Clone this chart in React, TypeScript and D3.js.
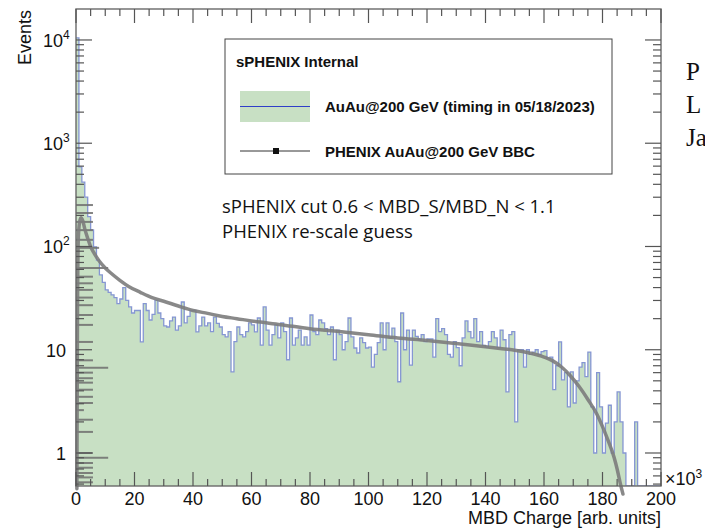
import React from 'react';
import * as d3 from 'd3';

const W = 705;
const H = 528;

// sPHENIX histogram: 200 bins of width 1 (x10^3), bins 0..199
const counts = [
  10500, 590, 420, 300, 195, 145, 99, 74, 53, 45,
  38, 36, 34, 32, 28, 31, 40, 30, 26, 22.7,
  24, 24, 11.9, 28, 24, 19.4, 22, 30, 22.7, 20,
  17, 16.6, 19, 20.7, 15.5, 17, 29, 18.2, 21, 24,
  24, 14.9, 17, 20.7, 17, 18.2, 15, 20.7, 18, 16.6,
  14, 13.3, 15, 6.1, 12, 16.6, 14, 13.3, 15, 18.2,
  17.4, 14.9, 20.3, 11.1, 26, 15.5, 11.1, 14, 17.4, 13,
  18.2, 15, 8, 20.3, 11.1, 13, 15.5, 11.1, 13.3, 11.1,
  21.7, 15, 14, 19.4, 18.2, 16, 14, 16.6, 8, 15.5,
  14, 10, 12, 20.3, 13.3, 10.4, 9.3, 13, 11.7, 10.4,
  10.6, 6.8, 9, 11.7, 18.2, 10, 18.2, 13, 16.2, 12,
  4.9, 22.7, 10, 15.5, 7.1, 15.5, 13.5, 12.5, 14, 12,
  12.7, 12.7, 8.5, 20, 15, 16, 14, 9, 8.5, 12,
  10.5, 7, 13, 19, 15, 13, 20, 12, 15, 11,
  10.6, 12, 15, 13, 10.5, 15.5, 12.5, 3.9, 14, 15,
  2, 10, 10, 6.8, 10, 9, 9.5, 10, 9, 9.6,
  9.8, 8.3, 8.5, 4.1, 7, 11.9, 5.1, 6, 2.8, 6.1,
  3.05, 5, 6.8, 7.5, 5.5, 9.5, 2.8, 1, 6, 2.8,
  1, 1.95, 2.9, 1, 2, 3.9, 2, 1, 0, 0,
  0, 2, 0, 0, 0, 0, 0, 0, 0, 0,
];

// PHENIX BBC re-scaled curve
const phenixX = [0.3, 0.5, 0.8, 1.2, 1.7, 2.3, 3, 4, 5, 6, 8, 10, 12, 15, 18, 22, 26, 30, 35, 40, 45, 50, 55, 60, 70, 80, 90, 100, 110, 120, 130, 140, 145, 150, 155, 160, 163, 166, 169, 172, 175, 178, 180, 182, 184, 185, 186, 187];
const phenixY = [0.45, 20, 120, 170, 190, 178, 148, 120, 100, 88, 72, 62, 55, 47, 41, 36, 32, 29.5, 26.5, 24, 22.5, 21, 20, 19, 17.5, 16, 15, 14, 13, 12.3, 11.5, 10.7, 10.3, 9.9, 9.3, 8.5, 7.8, 6.8, 5.6, 4.4, 3.3, 2.4, 1.8, 1.3, 0.9, 0.7, 0.52, 0.4];

// PHENIX points piled at the lowest charge (horizontal error bars)
const lowY = [252, 211, 173, 144, 116, 97, 62, 51, 44, 38, 32, 27, 21.7, 17.4, 11.9, 7.9, 6.7, 6, 5.3, 4.8, 4.1, 3.5, 3.05, 2.6, 2.1, 1.6, 1.0, 0.9, 0.8, 0.72, 0.64, 0.58, 0.52];
const lowErr = [5.8, 5.8, 5.8, 5.8, 5.8, 7.9, 11, 5.8, 5.8, 5.8, 5.8, 5.8, 5.8, 5.8, 5.8, 5.8, 11, 5.8, 5.8, 5.8, 5.8, 5.8, 5.8, 2.7, 5.8, 5.8, 5.8, 11, 5.8, 5.8, 5.8, 5.8, 5.8];

const xMajorTicks = [0, 20, 40, 60, 80, 100, 120, 140, 160, 180, 200];
const yMajorTicks = [1, 10, 100, 1000, 10000];
const yTickBase = ['1', '10', '10', '10', '10'];
const yTickSup = ['', '', '2', '3', '4'];

const legendTitle = 'sPHENIX Internal';
const legendEntries = ['AuAu@200 GeV (timing in 05/18/2023)', 'PHENIX AuAu@200 GeV BBC'];
const noteLines = ['sPHENIX cut 0.6 < MBD_S/MBD_N < 1.1', 'PHENIX re-scale guess'];
const slideLines = ['P', 'L', 'Ja'];

export default function App() {
  const L = 76, R = 661, T = 9, B = 486;
  const x = d3.scaleLinear().domain([0, 200]).range([L, R]);
  const yMin = 0.479;
  const y = d3.scaleLog().domain([yMin, 19950]).range([B, T]);
  const yc = y.copy().clamp(true);

  const histPts: [number, number][] = counts.map((c, i) => [i, Math.max(c, 0.3)]);
  histPts.push([200, Math.max(counts[counts.length - 1], 0.3)]);
  const stepLine = d3.line<[number, number]>().x(d => x(d[0])).y(d => yc(d[1])).curve(d3.curveStepAfter);
  const stepArea = d3.area<[number, number]>().x(d => x(d[0])).y0(B).y1(d => yc(d[1])).curve(d3.curveStepAfter);

  const curvePts: [number, number][] = phenixX.map((v, i) => [v, phenixY[i]]);
  const curveLine = d3.line<[number, number]>().x(d => x(d[0])).y(d => y(d[1])).curve(d3.curveMonotoneX);

  const xMinor: number[] = d3.range(0, 201, 5).filter(v => v % 20 !== 0);
  const yMinor: number[] = [];
  for (let k = -1; k <= 4; k++) {
    for (let m = 2; m <= 9; m++) {
      const v = m * Math.pow(10, k);
      if (v >= yMin && v <= 19950) yMinor.push(v);
    }
  }

  const axisCol = '#555';
  const helv = 'Liberation Sans, Arial, Helvetica, sans-serif';

  return (
    <svg width={W} height={H} style={{ position: 'absolute', left: 0, top: 0, background: '#fff' }} xmlns="http://www.w3.org/2000/svg">
      <defs>
        <clipPath id="frameClip">
          <rect x={L} y={T} width={R - L} height={B - T} />
        </clipPath>
      </defs>
      <rect x={0} y={0} width={W} height={H} fill="#fff" />

      {/* histogram */}
      <g clipPath="url(#frameClip)">
        <path d={stepArea(histPts) || ''} fill="#c8e0c4" stroke="none" />
        <path d={stepLine(histPts) || ''} fill="none" stroke="#8596d3" strokeWidth={1.3} />
      </g>

      {/* PHENIX low-charge points */}
      <g stroke="#6f6f6f" strokeWidth={2} opacity={0.85}>
        {lowY.map((v, i) => (
          <line key={i} x1={x(0)} x2={x(lowErr[i])} y1={y(v)} y2={y(v)} />
        ))}
      </g>

      {/* PHENIX curve */}
      <path d={curveLine(curvePts) || ''} fill="none" stroke="#7c7c7c" strokeWidth={3.5} opacity={0.9} strokeLinecap="round" />

      {/* frame */}
      <rect x={L} y={T} width={R - L} height={B - T} fill="none" stroke="#6a6a6a" strokeWidth={1.4} />

      {/* x ticks bottom & top */}
      <g stroke={axisCol} strokeWidth={1.2}>
        {xMajorTicks.map(v => (
          <g key={'xm' + v}>
            <line x1={x(v)} x2={x(v)} y1={B} y2={B - 14} />
            <line x1={x(v)} x2={x(v)} y1={T} y2={T + 14} />
          </g>
        ))}
        {xMinor.map(v => (
          <g key={'xn' + v}>
            <line x1={x(v)} x2={x(v)} y1={B} y2={B - 7} />
            <line x1={x(v)} x2={x(v)} y1={T} y2={T + 7} />
          </g>
        ))}
        {yMajorTicks.map(v => (
          <g key={'ym' + v}>
            <line x1={L} x2={L + 16} y1={y(v)} y2={y(v)} />
            <line x1={R} x2={R - 16} y1={y(v)} y2={y(v)} />
          </g>
        ))}
        {yMinor.map(v => (
          <g key={'yn' + v}>
            <line x1={L} x2={L + 8} y1={y(v)} y2={y(v)} />
            <line x1={R} x2={R - 8} y1={y(v)} y2={y(v)} />
          </g>
        ))}
      </g>

      {/* x tick labels */}
      <g fontFamily={helv} fontSize={18} fill="#111" textAnchor="middle">
        {xMajorTicks.map(v => (
          <text key={'xl' + v} x={x(v)} y={505}>{v}</text>
        ))}
      </g>
      <text x={665} y={485} fontFamily={helv} fontSize={18} fill="#111">
        ×10<tspan fontSize={12} dy={-7}>3</tspan>
      </text>
      <text x={R} y={524} fontFamily={helv} fontSize={18} fill="#111" textAnchor="end">MBD Charge [arb. units]</text>

      {/* y tick labels */}
      <g fontFamily={helv} fontSize={18} fill="#111">
        {yMajorTicks.map((v, i) => (
          <text key={'yl' + v} x={yTickSup[i] ? 43 : 66} y={y(v) + 7} textAnchor={yTickSup[i] ? 'start' : 'end'}>
            {yTickBase[i]}
            {yTickSup[i] ? <tspan fontSize={12} dy={-8}>{yTickSup[i]}</tspan> : null}
          </text>
        ))}
      </g>
      <text transform={`translate(31,${T + 1}) rotate(-90)`} fontFamily={helv} fontSize={18} fill="#111" textAnchor="end">Events</text>

      {/* legend */}
      <rect x={225} y={39} width={387} height={135} fill="#fff" stroke="#444" strokeWidth={1} />
      <text x={236} y={67} fontFamily={helv} fontWeight="bold" fontSize={15} fill="#111">{legendTitle}</text>
      <rect x={240} y={91} width={70} height={31} fill="#c8e0c4" />
      <line x1={240} x2={310} y1={106.5} y2={106.5} stroke="#2f3fc8" strokeWidth={1.2} />
      <text x={325} y={112} fontFamily={helv} fontWeight="bold" fontSize={15} fill="#111">{legendEntries[0]}</text>
      <line x1={240} x2={310} y1={151} y2={151} stroke="#333" strokeWidth={1} />
      <rect x={273} y={148} width={6} height={6} fill="#111" />
      <text x={325} y={157} fontFamily={helv} fontWeight="bold" fontSize={15} fill="#111">{legendEntries[1]}</text>

      {/* annotation */}
      <g fontFamily="Open Sans, Lato, sans-serif" fontSize={18.5} fill="#111">
        <text x={222} y={213}>{noteLines[0]}</text>
        <text x={222} y={238}>{noteLines[1]}</text>
      </g>

      {/* slide text cut at the right edge */}
      <g fontFamily="Liberation Serif, Times New Roman, serif" fontSize={25} fill="#111">
        {slideLines.map((s, i) => (
          <text key={s} x={686} y={80 + i * 33}>{s}</text>
        ))}
      </g>
    </svg>
  );
}
